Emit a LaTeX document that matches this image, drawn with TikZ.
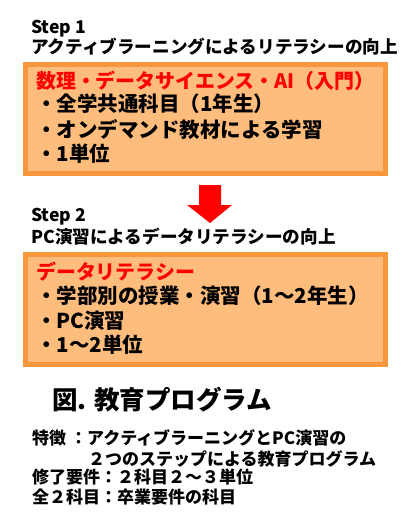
\documentclass[tikz,border=0pt]{standalone}
\usepackage{fontspec}
\setmainfont{Noto Sans CJK JP}
\definecolor{boxline}{RGB}{247,150,60}
\definecolor{boxfill}{RGB}{255,189,125}
\definecolor{titlered}{RGB}{255,0,0}
\begin{document}
\begin{tikzpicture}[x=1pt,y=-1pt,
  txt/.style={anchor=base west,inner sep=0pt,font=\fontsize{17}{17}\selectfont\bfseries},
  steptxt/.style={anchor=base west,inner sep=0pt,font=\fontsize{17.6}{18}\selectfont\bfseries},
  head/.style={anchor=base west,inner sep=0pt,font=\fontsize{19.9}{20}\selectfont\bfseries,text=titlered},
  item/.style={anchor=base west,inner sep=0pt,font=\fontsize{20.5}{21}\selectfont\bfseries},
  stepbox/.style={draw=boxline,line width=5pt,fill=boxfill}]
\useasboundingbox (0,0) rectangle (407,522);
% Step 1
\node[steptxt] (s1) at (31,33) {Step 1};
\node[steptxt] (s1t) at (31,53) {アクティブラーニングによるリテラシーの向上};
\draw[stepbox] (25.5,64.5) rectangle (385.5,173.5);
\node[head] (h1) at (36,88) {数理・データサイエンス・AI（入門）};
\node[item] (a1) at (36,111) {・全学共通科目（1年生）};
\node[item] (a2) at (36,137) {・オンデマンド教材による学習};
\node[item] (a3) at (36,161) {・1単位};
% arrow
\fill[titlered] (199,185) -- (221,185) -- (221,205) -- (232,205) -- (210,223) -- (187,205) -- (199,205) -- cycle;
% Step 2
\node[steptxt] (s2) at (31,221) {Step 2};
\node[steptxt] (s2t) at (31,243) {PC演習によるデータリテラシーの向上};
\draw[stepbox] (25.5,254.5) rectangle (385.5,364.5);
\node[head] (h2) at (36,279) {データリテラシー};
\node[item] (b1) at (36,303) {・学部別の授業・演習（1～2年生）};
\node[item] (b2) at (36,328) {・PC演習};
\node[item] (b3) at (36,352) {・1～2単位};
% caption
\node[anchor=base west,inner sep=0pt,font=\fontsize{25.5}{26}\selectfont\bfseries] (fig) at (52,409) {図. 教育プログラム};
\node[txt] (n1) at (32,444) {特徴 ：アクティブラーニングとPC演習の};
\node[txt] (n2) at (88,465) {２つのステップによる教育プログラム};
\node[txt] (n3) at (32,483) {修了要件：２科目２～３単位};
\node[txt] (n4) at (32,503) {全２科目：卒業要件の科目};
\end{tikzpicture}
\end{document}
